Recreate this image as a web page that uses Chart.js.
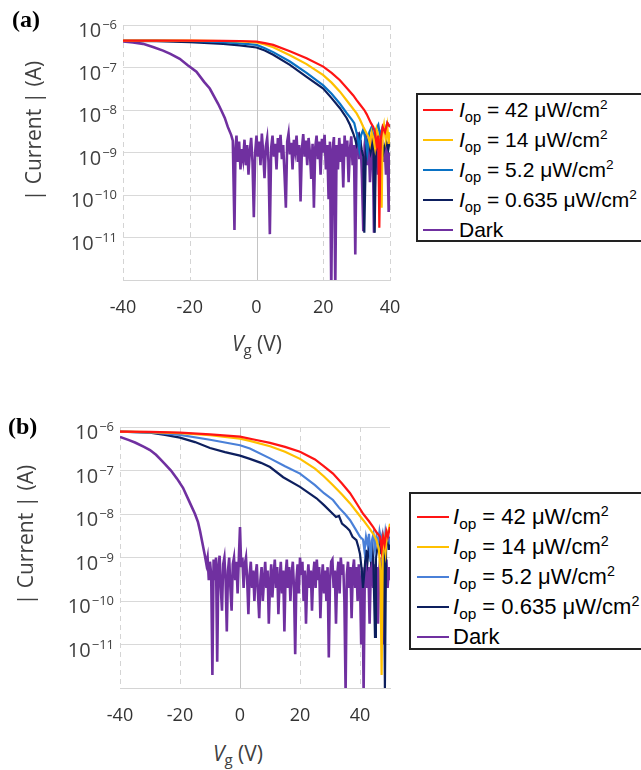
<!DOCTYPE html>
<html>
<head>
<meta charset="utf-8">
<script src="https://cdn.jsdelivr.net/npm/chart.js@4.4.1/dist/chart.umd.min.js"></script>
<style>
  body { margin:0; background:#fff; width:641px; height:770px; position:relative; overflow:hidden; }
  .wrap { position:absolute; }
  .panel { position:absolute; font:bold 24px "Liberation Serif"; color:#000; }
  .ytitle { position:absolute; font:21px "Open Sans"; color:#404040; white-space:nowrap; transform:translate(-50%,-50%) rotate(-90deg); }
  .xtitle { position:absolute; font:21px "Open Sans"; color:#404040; white-space:nowrap; transform:translateX(-50%); }
  .xtitle .sub { font-size:15px; position:relative; top:4px; }
  .legend { position:absolute; background:#fff; border:2px solid #222; color:#000; box-sizing:border-box; font-family:"Liberation Sans"; }
  .legend .row { height:30px; display:flex; align-items:center; white-space:nowrap; }
  .legend .ln { display:inline-block; height:2px; }
  .legend .sub { font-size:0.7em; position:relative; top:5px; }
  .legend .sup { font-size:0.65em; position:relative; top:-8px; }
</style>
</head>
<body>

<div class="wrap" style="left:0;top:0"><canvas id="chartA" width="420" height="330"></canvas></div>
<div class="wrap" style="left:0;top:400px"><canvas id="chartB" width="420" height="330"></canvas></div>

<div class="panel" style="left:12px;top:6px">(a)</div>
<div class="panel" style="left:8px;top:413px">(b)</div>

<div class="ytitle" style="left:33px;top:131px">| Current | (A)</div>
<div class="ytitle" style="left:25px;top:535px">| Current | (A)</div>

<div class="xtitle" style="left:257px;top:329px"><i>V</i><span class="sub">g</span> (V)</div>
<div class="xtitle" style="left:238px;top:739px"><i>V</i><span class="sub">g</span> (V)</div>

<div class="legend" id="legA" style="left:416px;top:93px;width:240px;height:149px;font-size:21px"></div>
<div class="legend" id="legB" style="left:409px;top:492px;width:250px;height:158px;padding-top:8px;font-size:22px"></div>

<script>
// ---- data: [Vg (V), |I| (A)] ----
const yTicks = [1e-6, 1e-7, 1e-8, 1e-9, 1e-10, 1e-11, 1e-12];
const yTickExps = ['\u22126', '\u22127', '\u22128', '\u22129', '\u221210', '\u221211', ''];
const xTicksA = [-40, -20, 0, 20, 40];
const xTicksB = [-40, -20, 0, 20, 40];
const xTickLabels = ['-40', '-20', '0', '20', '40'];

const legendPowers = ['42', '14', '5.2', '0.635'];
const colorsA = ['#ff1414', '#ffc000', '#0a72c4', '#0d1f5e', '#7030a0'];
const colorsB = ['#ff1414', '#ffc000', '#4a80d8', '#0d1f5e', '#7030a0'];

const redA = [[-40,4.3e-7],[-30,4.3e-7],[-20,4.3e-7],[-10,4.25e-7],[-5,4.2e-7],[0,4.05e-7],[2.5,3.75e-7],[5,3.4e-7],[10,2.4e-7],[15,1.65e-7],[20,1.05e-7],[22.5,7.5e-8],[25,5e-8],[27.5,3e-8],[29,2.2e-8],[30,1.7e-8],[31,1.35e-8],[32.3,1e-8],[33,8e-9],[34.3,4.9e-9],[35,4e-9],[35.5,3e-9],[36,1.5e-9],[36.5,2.5e-9],[36.8,1.7e-11],[37.2,2e-9],[37.8,4e-9],[38.5,3e-9],[39.2,5e-9],[40,4e-9]];
const yellowA = [[-40,4.3e-7],[-20,4.3e-7],[-10,4.2e-7],[-5,4.1e-7],[0,3.9e-7],[2.5,3.5e-7],[5,3.0e-7],[10,1.95e-7],[15,1.2e-7],[20,6.6e-8],[22.5,4.4e-8],[25,2.7e-8],[27.5,1.5e-8],[30,8.3e-9],[31,6e-9],[32,4e-9],[33,2.8e-9],[33.5,2.4e-9],[34,1.6e-9],[34.5,3e-9],[35,2.2e-9],[35.5,1.3e-9],[36,3.5e-9],[36.5,2.5e-9],[37,1.2e-9],[37.5,5e-11],[37.8,3e-9],[38.2,4.5e-9],[38.7,2e-9],[39.2,4e-9],[39.6,1.6e-9],[40,3e-9]];
const blueA = [[-40,4.3e-7],[-30,4.3e-7],[-20,4.2e-7],[-10,3.95e-7],[-5,3.7e-7],[0,3.4e-7],[2.5,2.85e-7],[5,2.3e-7],[10,1.38e-7],[15,7.5e-8],[20,3.8e-8],[22.5,2.4e-8],[25,1.4e-8],[27,8.5e-9],[28.5,6e-9],[29.3,4.9e-9],[30.3,2.3e-9],[30.8,1.2e-9],[31.3,2.5e-9],[32,3.5e-9],[32.7,2e-9],[33.2,1e-9],[33.8,3e-9],[34.5,4e-9],[35.2,2e-9],[35.8,3.5e-9],[36.5,4.5e-9],[37,2.5e-9],[37.8,4e-9],[38.5,3e-9],[39.2,5e-9],[40,4e-9]];
const navyA = [[-40,4.2e-7],[-30,4.15e-7],[-20,3.95e-7],[-10,3.6e-7],[-5,3.3e-7],[0,2.95e-7],[2.5,2.5e-7],[5,2e-7],[10,1.15e-7],[15,6e-8],[20,3.2e-8],[22.5,1.9e-8],[25,1.1e-8],[27,6.5e-9],[28,4.5e-9],[29,2.8e-9],[29.6,2e-9],[30,1.5e-9],[30.8,2.5e-9],[31.5,1.2e-9],[32,8e-10],[32.3,1.3e-11],[32.8,1.5e-9],[33.5,2e-9],[34.2,1e-9],[35,2e-9],[35.4,1.3e-11],[35.8,1.5e-9],[36.5,1.2e-9],[37.2,2e-9],[38,1e-9],[38.8,1.8e-9],[39.5,1.2e-9],[40,2e-9]];
const darkA = [[-40,4.1e-7],[-37,3.9e-7],[-34,3.6e-7],[-30.8,3e-7],[-28,2.5e-7],[-25.8,2.1e-7],[-23,1.6e-7],[-20.7,1.15e-7],[-18,8e-8],[-15.7,4.6e-8],[-14,3.2e-8],[-12.6,2e-8],[-11.5,1.4e-8],[-10.6,1e-8],[-9.5,6.5e-9],[-8.6,4e-9],[-7.6,2.6e-9],[-7.1,1.9e-9],
  [-6.6,1.5e-11],[-6.3,1.2e-9],[-6.0,2.5e-9],[-5.6,6e-10],[-5.2,1.8e-9],[-4.8,4e-10],[-4.4,1.2e-9],[-4.0,7e-10],[-3.6,2e-9],[-3.2,5e-10],[-2.8,1.5e-9],[-2.4,3e-10],[-2.0,1.1e-9],[-1.6,2.2e-9],[-1.2,6e-10],[-0.8,3e-11],[-0.4,1e-9],
  [0.0,2.5e-9],[0.4,8e-10],[0.8,1.8e-9],[1.2,5e-10],[1.6,2.8e-9],[2.0,1e-9],[2.4,2.5e-10],[2.8,1.4e-9],[3.2,2.2e-9],[3.6,6e-10],[4.0,1.2e-11],[4.4,1.3e-9],[4.8,2.5e-9],[5.2,8e-10],[5.6,1.6e-9],[6.0,4e-10],[6.4,2.2e-9],[6.8,1e-9],[7.2,2.6e-9],[7.6,7e-10],[8.0,1.5e-9],[8.4,3e-10],[8.8,5e-11],[9.2,1.8e-9],[9.6,2.8e-9],
  [10.0,9e-10],[10.4,1.7e-9],[10.8,4e-10],[11.2,2e-9],[11.6,1.1e-9],[12.0,2.5e-9],[12.4,6e-10],[12.8,1.5e-9],[13.2,7e-11],[13.6,1.2e-9],[14.0,2.7e-9],[14.4,8e-10],[14.8,1.9e-9],[15.2,5e-10],[15.6,2.2e-9],[16.0,1e-9],[16.4,2.4e-10],[16.8,1.6e-9],[17.2,5e-11],[17.6,1.3e-9],[18.0,2.5e-9],[18.4,7e-10],[18.8,1.8e-9],[19.2,3e-10],[19.6,2.1e-9],
  [20.0,1e-9],[20.4,2.6e-9],[20.8,4e-10],[21.2,1.5e-9],[21.6,8e-11],[22.0,1.8e-9],[22.4,5e-13],[22.8,1.2e-9],[23.2,2.3e-9],[23.6,6e-13],[24.0,1.5e-9],[24.4,4e-10],[24.8,2.2e-9],[25.2,6e-10],[25.6,1.6e-9],[26.0,1.5e-10],[26.4,2.5e-9],[26.8,8e-10],[27.2,1.9e-9],[27.6,2e-10],[28.0,1.2e-9],[28.4,2.4e-9],[28.8,5e-10],[29.2,1.5e-9],[29.6,4e-12],
  [30.0,1.7e-9],[30.4,3e-9],[30.8,7e-10],[31.2,2e-9],[31.6,2.5e-10],[32.0,1.4e-11],[32.4,1.5e-9],[32.8,2.8e-9],[33.2,5e-10],[33.6,1.8e-9],[34.0,2e-10],[34.4,1.2e-9],[34.8,2.5e-9],[35.2,1.3e-11],[35.6,1.1e-9],[36.0,2.2e-9],[36.4,3e-10],[36.8,1.6e-9],[37.2,1e-10],[37.6,2e-9],[38.0,6e-10],[38.4,1.5e-9],[38.8,3e-10],[39.2,1.8e-9],[39.6,4e-11],[40.0,1e-9]];

const redB = [[-40,7.8e-7],[-30,7.7e-7],[-20,7.4e-7],[-10,6.8e-7],[0,6e-7],[5,5.1e-7],[10,4.3e-7],[15,3.5e-7],[20,2.7e-7],[25,1.8e-7],[28,1.25e-7],[31,8.5e-8],[34,5e-8],[36.7,3e-8],[39,1.7e-8],[41.1,1e-8],[43,6.8e-9],[44.4,5e-9],[45.5,3.8e-9],[46.7,3e-9],[47.2,1.5e-9],[47.7,3e-9],[48.2,2e-9],[48.8,4e-9],[49.3,3e-9],[50,5e-9]];
const yellowB = [[-40,7.8e-7],[-30,7.6e-7],[-20,7.2e-7],[-10,6.5e-7],[0,5.4e-7],[3.3,4.8e-7],[10,3.6e-7],[15,2.7e-7],[20,1.85e-7],[25,1.1e-7],[28,7.3e-8],[31,4.6e-8],[34,2.8e-8],[36.7,1.75e-8],[39,1.1e-8],[41.1,7.2e-9],[43,4.8e-9],[44.4,3.5e-9],[45.5,2.5e-9],[46.3,1.5e-9],[46.8,5e-10],[47.2,2e-12],[47.6,1.5e-9],[48,2.5e-9],[48.5,1.3e-9],[49,3.5e-9],[49.5,4e-9],[50,6e-9]];
const blueB = [[-40,7.8e-7],[-30,7.5e-7],[-20,6.6e-7],[-10,5.1e-7],[0,3.8e-7],[3.3,3.2e-7],[10,1.9e-7],[15,1.25e-7],[20,8.5e-8],[25,4.6e-8],[28,3e-8],[31,2.1e-8],[33,1.4e-8],[35,1e-8],[36.7,7.2e-9],[38.5,4.5e-9],[40,3e-9],[41,2.6e-9],[41.5,1.4e-9],[42,3e-9],[42.5,2e-9],[43,3.5e-9],[43.5,8e-10],[44,2.5e-9],[44.5,3.5e-9],[45,1.5e-9],[45.5,3e-9],[46,2e-9],[46.5,4e-9],[47,2.5e-9],[47.5,3.5e-9],[48,1.5e-9],[48.5,4e-9],[49,2.5e-9],[49.5,3e-9],[50,2e-9]];
const navyB = [[-40,7.8e-7],[-30,7.4e-7],[-25,6.6e-7],[-20,5.7e-7],[-15,4.5e-7],[-10,3.3e-7],[-5,2.65e-7],[0,2.2e-7],[3.3,1.85e-7],[7,1.5e-7],[10,1.2e-7],[14.4,7e-8],[20,4.2e-8],[25.5,2.3e-8],[28,1.6e-8],[31,1e-8],[32,8.5e-9],[33,9e-9],[34,6e-9],[35.4,5e-9],[36.5,4.2e-9],[37.5,3e-9],[38.8,2.5e-9],[39.5,1.7e-9],[40,1.2e-9],[40.6,5e-10],[41,2e-10],[41.5,5e-10],[42,1.5e-9],[42.5,8e-10],[43,2e-9],[43.5,1e-9],[44,2.5e-9],[44.5,6e-10],[45,1.5e-11],[45.3,1e-9],[46,2e-9],[46.5,3e-9],[47,1.2e-9],[47.5,2.5e-9],[48,1e-9],[48.3,1e-12],[48.7,2e-9],[49.2,3e-9],[49.6,1.5e-9],[50,3e-9]];
const darkB = [[-40,5.9e-7],[-37,5e-7],[-35,4.4e-7],[-32,3.5e-7],[-30,2.95e-7],[-28,2.3e-7],[-26.5,1.8e-7],[-25,1.4e-7],[-23,1e-7],[-21,6.5e-8],[-19,4e-8],[-17,2e-8],[-15,1e-8],[-14,6.5e-9],[-13.3,4e-9],[-12.3,1.8e-9],[-11.7,1.1e-9],
  [-11.2,7e-10],[-10.8,1e-9],[-10.4,3e-10],[-10.0,8e-10],[-9.6,4e-10],[-9.2,2e-12],[-8.8,9e-10],[-8.4,3e-10],[-8.0,1e-9],[-7.6,4e-12],[-7.2,6e-10],[-6.8,1.1e-9],[-6.4,2e-10],[-6.0,6e-11],[-5.6,7e-10],[-5.2,1e-9],[-4.8,3e-10],[-4.4,2e-11],[-4.0,5e-10],[-3.6,1e-9],[-3.2,2e-10],[-2.8,6e-11],[-2.4,7e-10],[-2.0,1e-9],[-1.6,3e-10],[-1.2,8e-10],[-0.8,1.5e-10],[-0.4,9e-10],
  [0.0,5e-9],[0.4,6e-10],[0.8,1e-9],[1.2,2e-10],[1.6,7e-10],[2.0,1e-9],[2.4,3e-10],[2.8,5e-11],[3.2,4e-10],[3.6,8e-10],[4.0,2e-10],[4.4,5e-10],[4.8,1e-10],[5.2,4e-10],[5.6,7e-10],[6.0,1.5e-10],[6.4,4e-11],[6.8,3e-10],[7.2,6e-10],[7.6,1e-10],[8.0,3e-10],[8.4,8e-10],[8.8,2e-10],[9.2,5e-10],[9.6,3e-11],
  [10.0,2.5e-10],[10.4,7e-10],[10.8,1.2e-10],[11.2,4e-10],[11.6,9e-10],[12.0,2e-10],[12.4,6e-10],[12.8,5e-11],[13.2,3e-10],[13.6,8e-10],[14.0,1.5e-10],[14.4,5e-10],[14.8,2e-11],[15.2,4e-10],[15.6,9e-10],[16.0,2e-10],[16.4,6e-10],[16.8,1e-10],[17.2,4e-10],[17.6,8e-10],[18.0,2e-10],[18.4,6e-12],[18.8,3e-10],[19.2,7e-10],[19.6,1.5e-10],
  [20.0,1e-9],[20.4,4e-10],[20.8,8e-10],[21.2,1e-10],[21.6,5e-10],[22.0,3e-11],[22.4,3e-10],[22.8,7e-10],[23.2,2e-10],[23.6,5e-10],[24.0,6e-11],[24.4,4e-10],[24.8,8e-10],[25.2,2e-10],[25.6,9e-10],[26.0,3e-10],[26.4,6e-10],[26.8,4e-11],[27.2,3e-10],[27.6,7e-10],[28.0,1.5e-10],[28.4,5e-10],[28.8,1e-10],[29.2,6e-10],[29.6,5e-12],
  [30.0,3e-10],[30.4,8e-10],[30.8,9e-10],[31.2,2e-10],[31.6,5e-10],[32.0,3e-11],[32.4,4e-10],[32.8,8e-10],[33.2,1.5e-10],[33.6,1e-9],[34.0,4e-10],[34.4,7e-10],[34.8,1e-10],[35.2,8e-13],[35.6,4e-10],[36.0,8e-10],[36.4,2e-10],[36.8,6e-10],[37.2,4e-11],[37.6,5e-10],[38.0,9e-10],[38.4,2e-10],[38.8,6e-10],[39.2,1e-10],[39.6,7e-10],
  [40.0,3e-10],[40.4,1e-11],[40.8,6e-10],[41.2,8e-13],[41.6,4e-10],[42.0,9e-10],[42.4,2e-10],[42.8,6e-10],[43.2,3e-11],[43.6,5e-10],[44.0,1e-9],[44.4,2e-10],[44.8,7e-10],[45.2,1e-10],[45.6,6e-10],[46.0,3e-11],[46.4,5e-10],[46.8,1e-9],[47.2,2e-10],[47.6,7e-10],[48.0,1e-11],[48.4,5e-10],[48.8,9e-10],[49.2,2e-10],[49.6,6e-10],[50.0,3e-10]];

// ---- grid + decade labels drawn against the chart's own scales ----
const decadePlugin = {
  id: 'decade',
  beforeDatasetsDraw(chart, args, opts) {
    const ctx = chart.ctx, xs = chart.scales.x, a = chart.chartArea;
    ctx.save();
    opts.vlines.forEach(v => {
      const px = Math.round(xs.getPixelForValue(v)) + 0.5;
      ctx.beginPath();
      ctx.lineWidth = 1;
      if (v === 0) { ctx.setLineDash([]); ctx.strokeStyle = '#c4c4c4'; }
      else { ctx.setLineDash([5, 4]); ctx.strokeStyle = '#d4d4d4'; }
      ctx.moveTo(px, a.top); ctx.lineTo(px, a.bottom); ctx.stroke();
    });
    ctx.restore();
  },
  afterDraw(chart) {
    const ctx = chart.ctx, ys = chart.scales.y, a = chart.chartArea;
    ctx.save();
    ctx.fillStyle = '#404040';
    ctx.textBaseline = 'alphabetic';
    yTicks.forEach((v, i) => {
      if (!yTickExps[i]) return;
      const py = ys.getPixelForValue(v);
      ctx.font = '13px "Open Sans"';
      const w2 = ctx.measureText(yTickExps[i]).width;
      ctx.font = '20px "Open Sans"';
      const w1 = ctx.measureText('10').width;
      const right = a.left - 6;
      ctx.fillText('10', right - w2 - w1 - 1, py + 12);
      ctx.font = '13px "Open Sans"';
      ctx.fillText(yTickExps[i], right - w2, py + 4);
    });
    ctx.restore();
  }
};

function makeChart(id, series, colors, xTicks, xmax, yWidth, padTop, xHeight) {
  return new Chart(document.getElementById(id), {
    type: 'line',
    data: {
      datasets: series.map((s, i) => ({
        data: s.map(p => ({ x: p[0], y: p[1] })),
        borderColor: colors[i],
        borderWidth: i === 4 ? 2.6 : 2.2,
        pointRadius: 0,
        tension: 0,
        fill: false
      }))
    },
    options: {
      responsive: false,
      animation: false,
      layout: { padding: { top: padTop, right: 30, left: 0, bottom: 0 } },
      plugins: { legend: { display: false }, tooltip: { enabled: false }, decade: { vlines: xTicks } },
      scales: {
        x: {
          type: 'linear', min: -40, max: xmax,
          afterBuildTicks: s => { s.ticks = xTicks.map(v => ({ value: v })); },
          afterFit: s => { s.height = xHeight; },
          ticks: { callback: (v, i) => xTickLabels[i], font: { family: 'Open Sans', size: 18 }, color: '#333', padding: 9, maxRotation: 0 },
          grid: { display: false },
          border: { display: true, color: '#d4d4d4' }
        },
        y: {
          type: 'logarithmic', min: 1e-12, max: 1e-6,
          afterBuildTicks: s => { s.ticks = yTicks.map(v => ({ value: v })); },
          afterFit: s => { s.width = yWidth; },
          ticks: { display: false },
          grid: { color: '#d9d9d9', drawTicks: false },
          border: { display: false }
        }
      }
    },
    plugins: [decadePlugin]
  });
}

makeChart('chartA', [redA, yellowA, blueA, navyA, darkA], colorsA, xTicksA, 40, 123, 25, 50);
makeChart('chartB', [redB, yellowB, blueB, navyB, darkB], colorsB, xTicksB, 50, 120, 27, 42);

function buildLegend(id, colors, lineW, gap, padL) {
  const el = document.getElementById(id);
  const labels = legendPowers.map(p => '<i>I</i><span class="sub">op</span> = ' + p + ' \u03bcW/cm<span class="sup">2</span>');
  labels.push('Dark');
  labels.forEach((t, i) => {
    const row = document.createElement('div');
    row.className = 'row';
    row.innerHTML = '<span class="ln" style="width:' + lineW + 'px;margin-left:' + padL + 'px;margin-right:' + gap + 'px;background:' + colors[i] + '"></span><span>' + t + '</span>';
    el.appendChild(row);
  });
}
buildLegend('legA', colorsA, 30, 6, 5);
buildLegend('legB', colorsB, 32, 4, 6);
</script>
</body>
</html>
